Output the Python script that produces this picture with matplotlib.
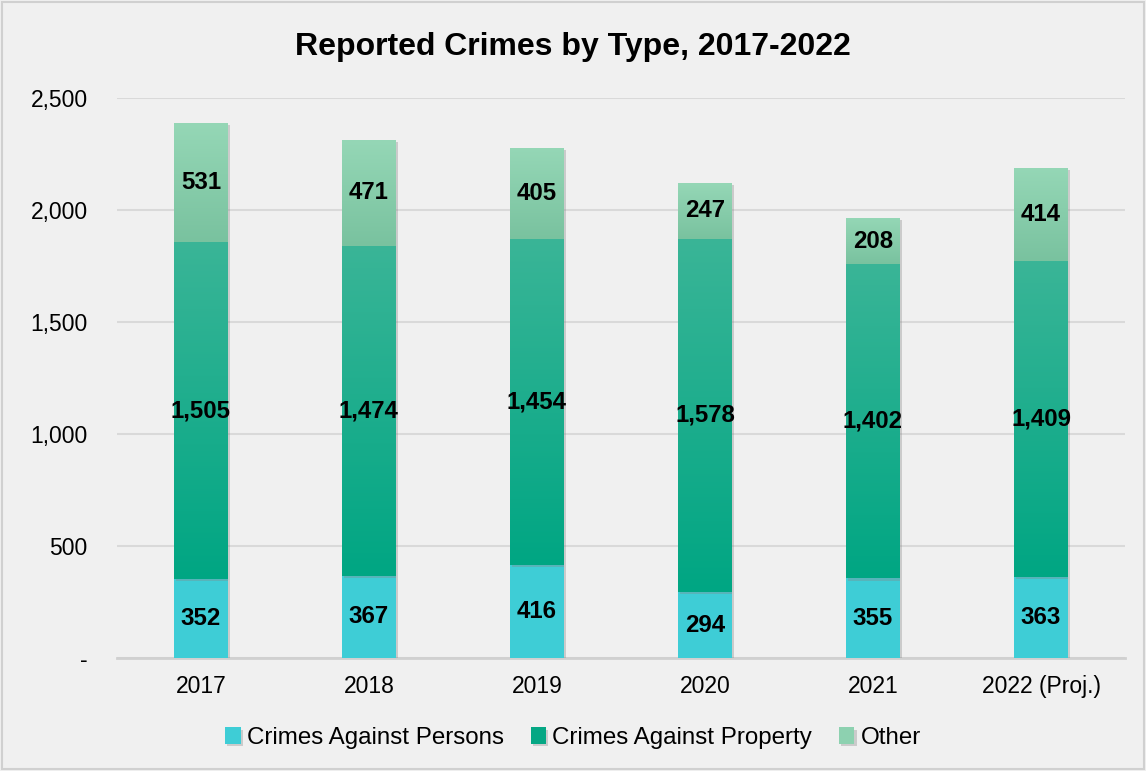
import matplotlib.pyplot as plt
import matplotlib.patheffects as pe
import numpy as np
from matplotlib.colors import LinearSegmentedColormap
from matplotlib.patches import Rectangle

plt.rcParams['font.family'] = ['Liberation Sans', 'DejaVu Sans']

years = ['2017', '2018', '2019', '2020', '2021', '2022 (Proj.)']
persons = [352, 367, 416, 294, 355, 363]
property_crimes = [1505, 1474, 1454, 1578, 1402, 1409]
other = [531, 471, 405, 247, 208, 414]

bg = '#f0f0f0'
fig = plt.figure(figsize=(11.46, 7.71), dpi=100, facecolor=bg)
ax = fig.add_axes([0.102, 0.1466, 0.8797, 0.7263])
ax.set_facecolor(bg)

x = np.arange(len(years))
w = 0.32
shadow = [pe.SimplePatchShadow(offset=(1.5, -1.5), shadow_rgbFace='#888888', alpha=0.35), pe.Normal()]

b1 = ax.bar(x, persons, w, color='#3ecdd6', label='Crimes Against Persons', zorder=3,
            path_effects=shadow)
bottom2 = np.array(persons)
b2 = ax.bar(x, property_crimes, w, bottom=bottom2, color='#05a784', label='Crimes Against Property',
            zorder=3, path_effects=shadow)
bottom3 = bottom2 + np.array(property_crimes)
b3 = ax.bar(x, other, w, bottom=bottom3, color='#8dd1b0', label='Other', zorder=3,
            path_effects=shadow)

# vertical gradients on the upper two segments
grad_prop = LinearSegmentedColormap.from_list('gp', ['#00a683', '#3ab597'])
grad_other = LinearSegmentedColormap.from_list('go', ['#79c29f', '#95d7b6'])
ramp = np.linspace(0, 1, 256).reshape(-1, 1)
for bars, cmap in [(b2, grad_prop), (b3, grad_other)]:
    for bar in bars:
        x0, y0 = bar.get_x(), bar.get_y()
        im = ax.imshow(ramp, cmap=cmap, aspect='auto', origin='lower', zorder=3.5,
                       extent=[x0, x0 + bar.get_width(), y0, y0 + bar.get_height()])
        im.set_clip_path(bar)

# value labels centered in each segment
for bars, vals in [(b1, persons), (b2, property_crimes), (b3, other)]:
    for bar, v in zip(bars, vals):
        ax.text(bar.get_x() + bar.get_width() / 2, bar.get_y() + bar.get_height() / 2,
                f'{v:,}', ha='center', va='center', fontsize=17.3, fontweight='bold',
                color='black', zorder=5)

ax.set_xlim(-0.5, len(years) - 0.5)
ax.set_ylim(0, 2500)
ax.set_xticks(x)
ax.set_xticklabels(years, fontsize=16.5)
ax.set_yticks(np.arange(0, 2501, 500))
ax.set_yticklabels(['-'] + [f'{v:,}' for v in range(500, 2501, 500)], fontsize=16.5)
ax.tick_params(length=0)
ax.tick_params(axis='x', pad=12)
ax.tick_params(axis='y', pad=21)

ax.grid(axis='y', color='#d9d9d9', linewidth=1.5, zorder=0)
ax.set_axisbelow(True)
for s in ['top', 'right', 'left']:
    ax.spines[s].set_visible(False)
ax.spines['bottom'].set_color('#d0d0d0')
ax.spines['bottom'].set_linewidth(2)

fig.text(0.5, 1 - 47 / 771, 'Reported Crimes by Type, 2017-2022', ha='center', va='center',
         fontsize=23, fontweight='bold')

leg = ax.legend(loc='center', bbox_to_anchor=(0.5, 1 - 738 / 771), bbox_transform=fig.transFigure,
                frameon=False, ncol=3, fontsize=17.4, handlelength=0.65, handleheight=0.65,
                handletextpad=0.25, columnspacing=1.1)

fig.patches.append(Rectangle((0.002, 0.002), 0.996, 0.996, transform=fig.transFigure,
                             fill=False, edgecolor='#d0d0d0', linewidth=1.5))

fig.savefig('out.png', dpi=100, facecolor=bg)
